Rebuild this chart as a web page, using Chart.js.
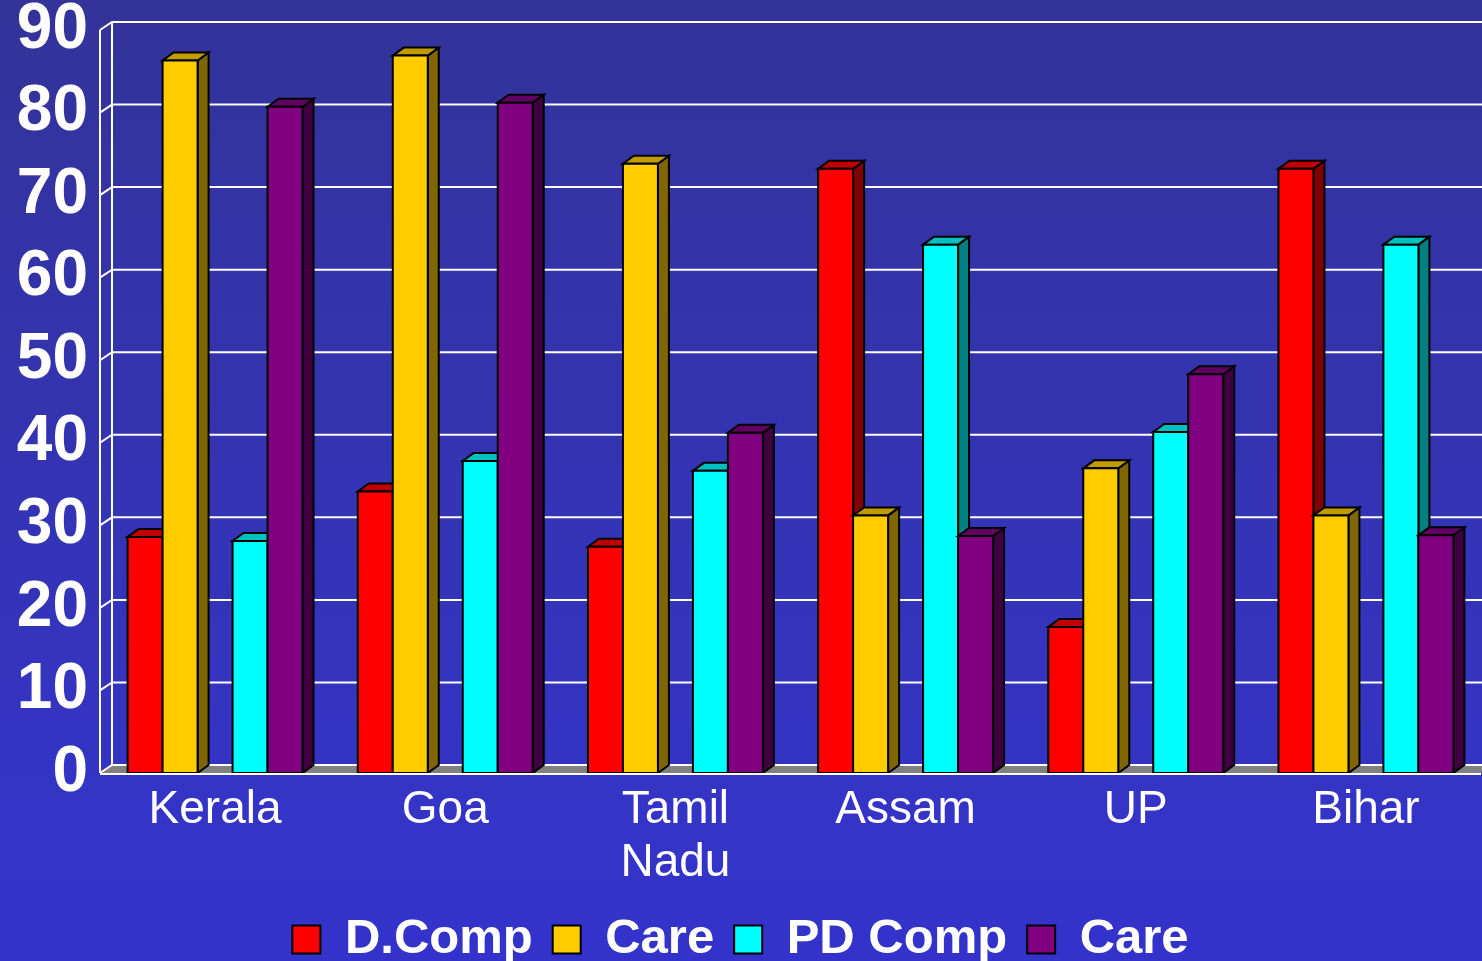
<!DOCTYPE html>
<html>
<head>
<meta charset="utf-8">
<script src="https://cdn.jsdelivr.net/npm/chart.js@4/dist/chart.umd.min.js"></script>
<style>
html,body{margin:0;padding:0;background:#3333CC;overflow:hidden;}
canvas{display:block;}
</style>
</head>
<body>
<canvas id="c" width="1482" height="961"></canvas>
<script>
// ---- data ----
const categories = ["Kerala", "Goa", ["Tamil", "Nadu"], "Assam", "UP", "Bihar"];
const dComp  = [28.6, 34.1, 27.4, 73.2, 17.7, 73.2];
const dCare  = [86.3, 86.9, 73.8, 31.2, 36.9, 31.2];
const pdComp = [28.1, 37.8, 36.6, 64.0, 41.3, 64.0];
const pdCare = [80.7, 81.2, 41.2, 28.7, 48.3, 28.8];
const seriesLabels = ["D.Comp", "Care", "PD Comp", "Care"];
const yMin = 0, yMax = 90, yStep = 10;

// ---- styles ----
const FONT = "'Liberation Sans', Arial, Helvetica, sans-serif";
const shades = [
  {front: '#FF0000', top: '#C00000', side: '#800000'},
  {front: '#FFCC00', top: '#C09C00', side: '#806600'},
  {front: '#00FFFF', top: '#00C0C0', side: '#008080'},
  {front: '#800080', top: '#600060', side: '#400040'}
];
const DX = 11, DY = -8;     // bar depth
const WDX = 12, WDY = -8;   // wall depth

function poly(ctx, pts, fill) {
  ctx.beginPath();
  ctx.moveTo(pts[0][0], pts[0][1]);
  for (let k = 1; k < pts.length; k++) ctx.lineTo(pts[k][0], pts[k][1]);
  ctx.closePath();
  ctx.fillStyle = fill;
  ctx.fill();
  ctx.stroke();
}

const threeD = {
  id: 'threeD',
  beforeDraw(chart) {
    const ctx = chart.ctx;
    const g = ctx.createLinearGradient(0, 0, 0, chart.height);
    g.addColorStop(0, '#333399');
    g.addColorStop(0.8, '#3434C4');
    g.addColorStop(1, '#3333CC');
    ctx.save();
    ctx.fillStyle = g;
    ctx.fillRect(0, 0, chart.width, chart.height);
    ctx.restore();
  },
  beforeDatasetsDraw(chart) {
    const ctx = chart.ctx;
    const a = chart.chartArea;
    const ys = chart.scales.y;
    const y0 = ys.getPixelForValue(yMin);
    const yTop = ys.getPixelForValue(yMax);
    ctx.save();
    // floor
    ctx.fillStyle = '#808080';
    ctx.beginPath();
    ctx.moveTo(a.left, y0);
    ctx.lineTo(a.left + WDX, y0 + WDY);
    ctx.lineTo(a.right + WDX, y0 + WDY);
    ctx.lineTo(a.right, y0);
    ctx.closePath();
    ctx.fill();
    // gridlines on back wall + side wall diagonals
    ctx.strokeStyle = '#FFFFFF';
    ctx.lineWidth = 2;
    ys.ticks.forEach(t => {
      const py = ys.getPixelForValue(t.value);
      ctx.beginPath();
      ctx.moveTo(a.left, py);
      ctx.lineTo(a.left + WDX, py + WDY);
      ctx.lineTo(a.right + WDX + 20, py + WDY);
      ctx.stroke();
    });
    ctx.beginPath();
    ctx.moveTo(a.left + WDX, yTop + WDY);
    ctx.lineTo(a.left + WDX, y0 + WDY);
    ctx.moveTo(a.left, yTop);
    ctx.lineTo(a.left, y0);
    ctx.stroke();

    // bars, left to right
    ctx.strokeStyle = '#000000';
    ctx.lineWidth = 2;
    ctx.lineJoin = 'miter';
    const n = chart.data.labels.length;
    for (let j = 0; j < n; j++) {
      chart.data.datasets.forEach((ds, i) => {
        if (ds.shadeIndex === undefined) return;
        const v = ds.data[j];
        if (v === null || v === undefined) return;
        const el = chart.getDatasetMeta(i).data[j];
        if (!el) return;
        const p = el.getProps(['x', 'y', 'base', 'width'], true);
        const s = shades[ds.shadeIndex];
        const l = p.x - p.width / 2, r = p.x + p.width / 2;
        poly(ctx, [[r, p.y], [r + DX, p.y + DY], [r + DX, p.base + DY], [r, p.base]], s.side);
        poly(ctx, [[l, p.y], [l + DX, p.y + DY], [r + DX, p.y + DY], [r, p.y]], s.top);
        poly(ctx, [[l, p.y], [r, p.y], [r, p.base], [l, p.base]], s.front);
      });
    }
    // front floor edge
    ctx.strokeStyle = '#FFFFFF';
    ctx.lineWidth = 2;
    ctx.beginPath();
    ctx.moveTo(a.left, y0 + 1);
    ctx.lineTo(a.right, y0 + 1);
    ctx.stroke();
    ctx.restore();
    return false;
  }
};

const seriesData = [dComp, dCare, pdComp, pdCare];
const datasets = [];
seriesData.forEach((d, k) => {
  if (k === 2) {
    // empty slot between the two pairs
    datasets.push({label: '', data: categories.map(() => null), backgroundColor: 'rgba(0,0,0,0)', borderWidth: 0});
  }
  datasets.push({
    label: seriesLabels[k],
    data: d,
    shadeIndex: k,
    backgroundColor: shades[k].front,
    borderColor: '#000000',
    borderWidth: 2
  });
});

new Chart(document.getElementById('c'), {
  type: 'bar',
  data: {labels: categories, datasets: datasets},
  plugins: [threeD],
  options: {
    responsive: false,
    devicePixelRatio: 1,
    animation: false,
    datasets: {bar: {barPercentage: 1, categoryPercentage: 0.76}},
    layout: {padding: {left: 0, right: 1, top: 30, bottom: -13}},
    plugins: {
      tooltip: {enabled: false},
      legend: {
        position: 'bottom',
        labels: {
          filter: (item) => item.text !== '',
          color: '#FFFFFF',
          font: {family: FONT, size: 49, weight: 'bold'},
          boxWidth: 28,
          boxHeight: 28,
          padding: 20
        }
      }
    },
    scales: {
      x: {
        grid: {display: false, drawTicks: false},
        border: {display: false},
        ticks: {
          color: '#FFFFFF',
          font: {family: FONT, size: 46, lineHeight: 1.17},
          padding: 10,
          maxRotation: 0,
          autoSkip: false
        },
        afterFit(s) { s.height = 122; }
      },
      y: {
        min: yMin, max: yMax,
        grid: {display: false, drawTicks: false},
        border: {display: false},
        ticks: {
          stepSize: yStep,
          color: '#FFFFFF',
          font: {family: FONT, size: 64, weight: 'bold', lineHeight: 1},
          padding: 12
        },
        afterFit(s) { s.width = 100; s.paddingTop = 0; s.paddingBottom = 0; }
      }
    }
  }
});
</script>
</body>
</html>
